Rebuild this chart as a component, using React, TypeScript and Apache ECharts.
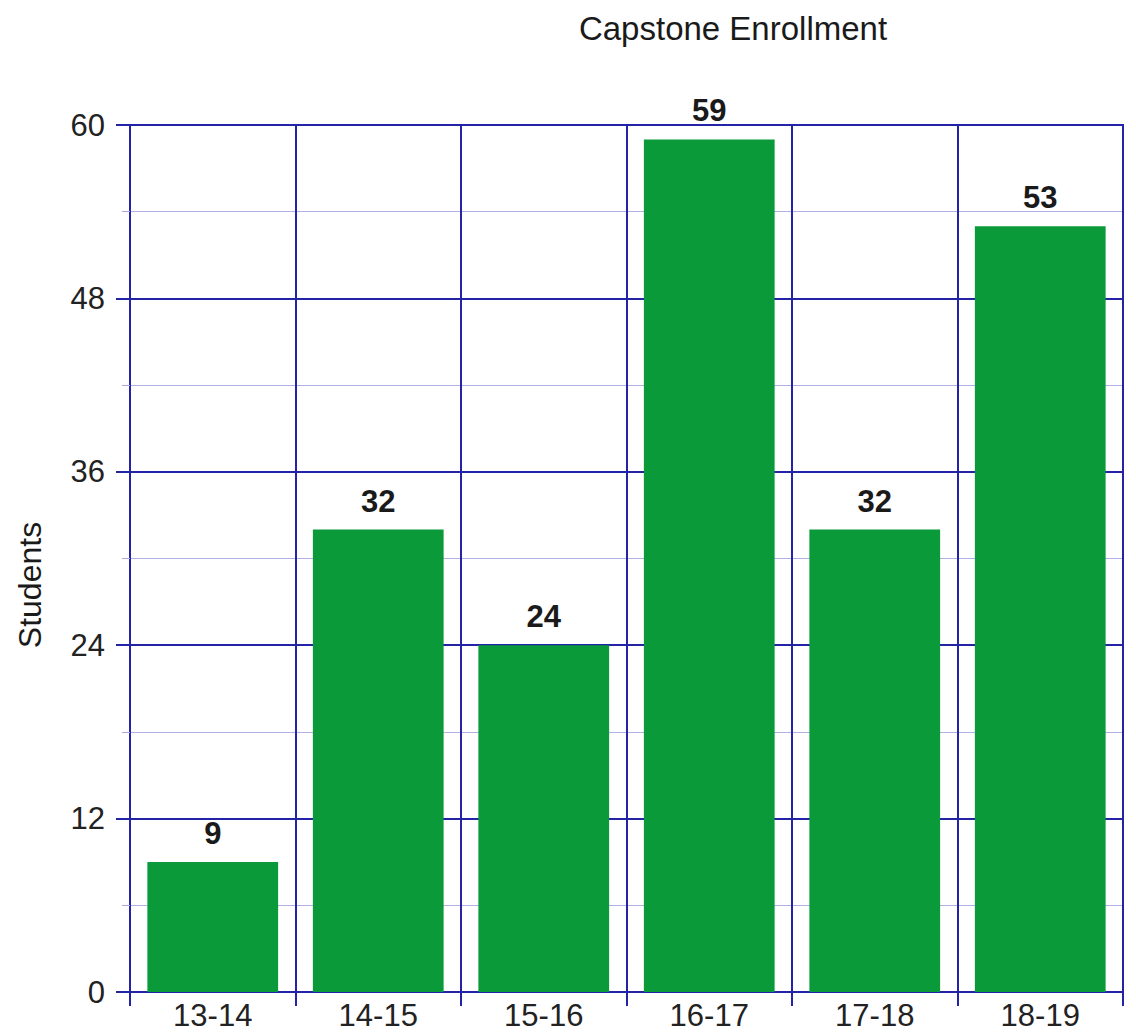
import React, { useEffect, useRef } from "react";
import * as echarts from "echarts";

const categories = ["13-14", "14-15", "15-16", "16-17", "17-18", "18-19"];
const students = [9, 32, 24, 59, 32, 53];
const yTicks = [0, 12, 24, 36, 48, 60];

export default function App() {
  const ref = useRef<HTMLDivElement>(null);
  useEffect(() => {
    if (!ref.current) return;
    const chart = echarts.init(ref.current, undefined, { renderer: "svg" });
    const major = "#2323a8";
    const font = "'Liberation Sans', Arial, sans-serif";
    chart.setOption({
      animation: false,
      backgroundColor: "#ffffff",
      title: {
        text: "Capstone Enrollment",
        left: 728,
        top: 7,
        textAlign: "center",
        textStyle: { fontFamily: font, fontSize: 33, fontWeight: "normal", color: "#1a1a1a" },
      },
      graphic: [
        {
          type: "text",
          x: 30,
          y: 585,
          rotation: Math.PI / 2,
          style: {
            text: "Students",
            fontFamily: font,
            fontSize: 32,
            fill: "#1a1a1a",
            textAlign: "center",
            textVerticalAlign: "middle",
          },
        },
      ],
      grid: {
        left: 130,
        right: 13,
        top: 125,
        bottom: 44,
        show: true,
        borderColor: major,
        borderWidth: 2,
        backgroundColor: "transparent",
      },
      xAxis: {
        type: "category",
        data: categories,
        boundaryGap: true,
        axisLine: { show: true, lineStyle: { color: major, width: 2 } },
        axisTick: { show: true, length: 14, lineStyle: { color: major, width: 2 } },
        splitLine: { show: true, lineStyle: { color: major, width: 2 } },
        axisLabel: { fontFamily: font, fontSize: 31, color: "#222", margin: 8 },
      },
      yAxis: {
        type: "value",
        min: yTicks[0],
        max: yTicks[yTicks.length - 1],
        interval: 12,
        axisLine: { show: true, lineStyle: { color: major, width: 2 } },
        axisTick: { show: true, length: 14, lineStyle: { color: major, width: 2 } },
        minorTick: { show: true, splitNumber: 2, length: 8, lineStyle: { color: "#a8a8e0", width: 1 } },
        minorSplitLine: { show: true, lineStyle: { color: "#b0b0e4", width: 1 } },
        splitLine: { show: true, lineStyle: { color: major, width: 2 } },
        axisLabel: { fontFamily: font, fontSize: 31, color: "#222", margin: 25 },
      },
      series: [
        {
          type: "bar",
          data: students,
          barCategoryGap: "21%",
          itemStyle: { color: "#0a9a3a" },
          label: {
            show: true,
            position: "top",
            distance: 13,
            fontFamily: font,
            fontSize: 31,
            fontWeight: "bold",
            color: "#1a1a1a",
          },
        },
      ],
    });
    return () => chart.dispose();
  }, []);
  return <div ref={ref} style={{ width: 1136, height: 1036, position: "absolute", left: 0, top: 0 }} />;
}
